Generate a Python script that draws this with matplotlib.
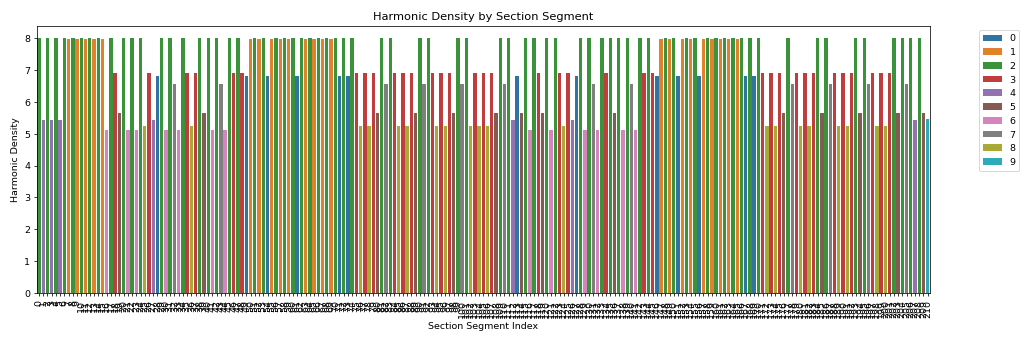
import matplotlib
matplotlib.use('Agg')
import matplotlib.pyplot as plt
import seaborn as sns
import pandas as pd

# category (digit) of each section segment, read left to right
segment_digit = [
    2, 4, 2, 4, 2, 4, 2, 1, 2, 1, 2, 1, 2, 1, 2, 1, 6, 2, 3, 5,
    2, 6, 2, 6, 2, 8, 3, 4, 0, 2, 6, 2, 7, 6, 2, 3, 8, 3, 2, 5,
    2, 6, 2, 7, 6, 2, 3, 2, 3, 0, 1, 2, 1, 2, 0, 1, 2, 1, 2, 1,
    2, 0, 2, 1, 2, 1, 2, 1, 2, 1, 2, 0, 2, 0, 2, 3, 8, 3, 8, 3,
    5, 2, 7, 2, 3, 8, 3, 8, 3, 5, 2, 7, 2, 3, 8, 3, 8, 3, 5, 2,
    7, 2, 8, 3, 8, 3, 8, 3, 5, 2, 7, 2, 4, 0, 5, 2, 6, 2, 3, 5,
    2, 6, 2, 3, 8, 3, 4, 0, 2, 6, 2, 7, 6, 2, 3, 2, 5, 2, 6, 2,
    7, 6, 2, 3, 2, 3, 0, 1, 2, 1, 2, 0, 1, 2, 1, 2, 0, 1, 2, 1,
    2, 1, 2, 1, 2, 1, 2, 0, 2, 0, 2, 3, 8, 3, 8, 3, 5, 2, 7, 3,
    8, 3, 8, 3, 2, 5, 2, 7, 3, 8, 3, 8, 3, 2, 5, 2, 7, 3, 8, 3,
    8, 3, 2, 5, 2, 7, 2, 4, 2, 5, 9,
]

# harmonic density read for each digit
density_by_digit = {
    0: 6.82, 1: 7.97, 2: 8.0, 3: 6.9, 4: 5.42,
    5: 5.65, 6: 5.12, 7: 6.56, 8: 5.24, 9: 5.46,
}

harmonic_density = [density_by_digit[d] for d in segment_digit]
segment_index = list(range(len(segment_digit)))

df = pd.DataFrame({
    'Section Segment Index': segment_index,
    'Harmonic Density': harmonic_density,
    'Digit': [str(d) for d in segment_digit],
})

fig, ax = plt.subplots(figsize=(15, 5), dpi=1024 / 15)
sns.barplot(data=df, x='Section Segment Index', y='Harmonic Density',
            hue='Digit', hue_order=[str(i) for i in range(10)],
            palette='tab10', dodge=False, ax=ax)

ax.set_title('Harmonic Density by Section Segment')
ax.set_xlabel('Section Segment Index')
ax.set_ylabel('Harmonic Density')
ax.tick_params(axis='x', rotation=90)
ax.legend(bbox_to_anchor=(1.05, 1), loc='upper left')

fig.subplots_adjust(left=0.036, right=0.908, top=0.924, bottom=0.141)
fig.savefig('out.png')
